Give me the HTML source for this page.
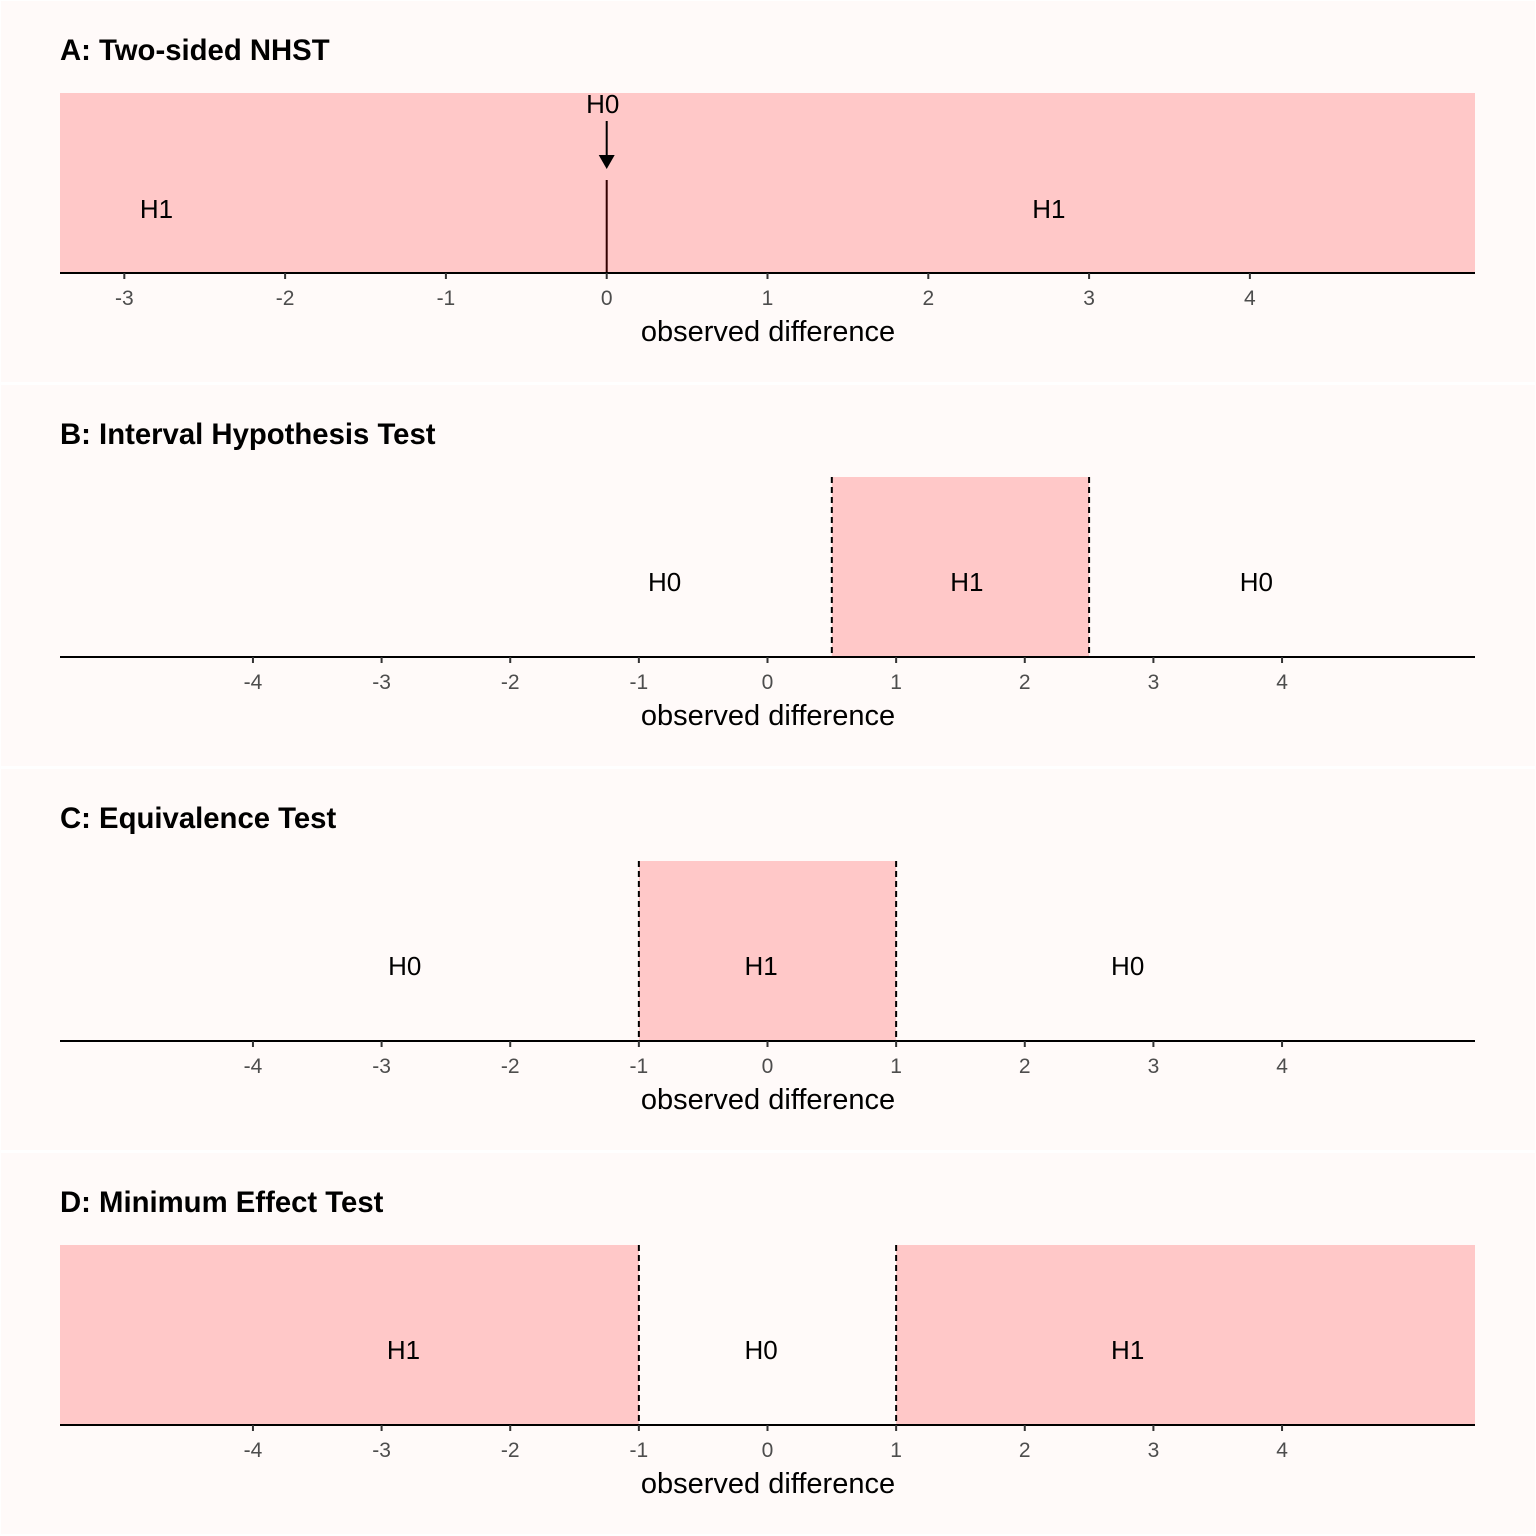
<!DOCTYPE html>
<html><head><meta charset="utf-8"><style>
body{margin:0;background:#fff;}
svg{display:block;font-family:"Liberation Sans",Arial,sans-serif;}
</style></head><body>
<svg id="c" width="1536" height="1536"></svg>
<script>
const panelTitles=["A: Two-sided NHST","B: Interval Hypothesis Test","C: Equivalence Test","D: Minimum Effect Test"];
const panelDomains=[[-3.4,5.4],[-5.5,5.5],[-5.5,5.5],[-5.5,5.5]];
const panelTicks=[[-3,-2,-1,0,1,2,3,4],[-4,-3,-2,-1,0,1,2,3,4],[-4,-3,-2,-1,0,1,2,3,4],[-4,-3,-2,-1,0,1,2,3,4]];
// shaded H1 regions [from,to]
const panelRegions=[[[-3.4,5.4]],[[0.5,2.5]],[[-1,1]],[[-5.5,-1],[1,5.5]]];
const panelBounds=[[],[0.5,2.5],[-1,1],[-1,1]];
const panelLabels=[
 [["H1",-2.8],["H1",2.75]],
 [["H0",-0.8],["H1",1.55],["H0",3.8]],
 [["H0",-2.82],["H1",-0.05],["H0",2.8]],
 [["H1",-2.83],["H0",-0.05],["H1",2.8]]
];
const labelY=[218,207,207,207];
const svg=document.getElementById('c');
const NS='http://www.w3.org/2000/svg';
function mk(t,a,p){const e=document.createElementNS(NS,t);for(const k in a)e.setAttribute(k,a[k]);(p||svg).appendChild(e);return e;}
const L=60,R=1475,PH=384;
panelTitles.forEach((title,i)=>{
 const oy=i*PH;
 const g=mk('g',{});
 
 
 const bg=mk('rect',{x:1,y:oy+1,width:1534,height:PH-3,fill:'#fffaf9'},g);
 
 
 const [d0,d1]=panelDomains[i];
 const sx=v=>L+(v-d0)/(d1-d0)*(R-L);
 const top=oy+93,bot=oy+273;
 const t=mk('text',{x:60,y:oy+60,'font-size':29.3,'font-weight':'bold',fill:'#000'},g);
 t.textContent=title;
 
 
 panelRegions[i].forEach(r=>{
  const e=mk('rect',{x:sx(r[0]),y:top,width:sx(r[1])-sx(r[0]),height:bot-top,fill:'#ffc8c8'},g);
  
  
 });
 panelBounds[i].forEach(b=>{
  const e=mk('line',{x1:sx(b),x2:sx(b),y1:top,y2:bot,stroke:'#000','stroke-width':2,'stroke-dasharray':'6,4'},g);
  
  
 });
 if(i===0){
  const x0=sx(0);
  const l=mk('line',{x1:x0,x2:x0,y1:oy+180,y2:bot,stroke:'#300','stroke-width':2},g);
  
  
  const a=mk('line',{x1:x0,x2:x0,y1:oy+121,y2:oy+157,stroke:'#000','stroke-width':2},g);
  
  
  const h=mk('polygon',{points:`${x0-8},${oy+155} ${x0+8},${oy+155} ${x0},${oy+169}`,fill:'#000'},g);
  
  
  const ht=mk('text',{x:x0-4,y:oy+113,'font-size':26,'text-anchor':'middle'},g);
  ht.textContent='H0';
  
  
 }
 panelLabels[i].forEach(([s,v])=>{
  const e=mk('text',{x:sx(v),y:oy+labelY[i],'font-size':26,'text-anchor':'middle'},g);
  e.textContent=s;
  
  
 });
 const ax=mk('line',{x1:L,x2:R,y1:bot,y2:bot,stroke:'#000','stroke-width':2},g);
 
 
 panelTicks[i].forEach(v=>{
  const tk=mk('line',{x1:sx(v),x2:sx(v),y1:bot,y2:bot+6,stroke:'#333','stroke-width':2},g);
  
  
  const tl=mk('text',{x:sx(v),y:bot+32,'font-size':21,'text-anchor':'middle',fill:'#4d4d4d'},g);
  tl.textContent=String(v);
  
  
 });
 const xt=mk('text',{x:768,y:oy+341,'font-size':29,'text-anchor':'middle'},g);
 xt.textContent='observed difference';
 
 
});
</script>
</body></html>
